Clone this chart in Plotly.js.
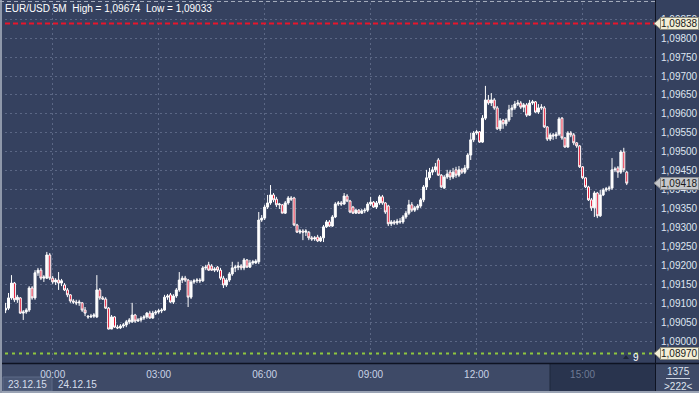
<!DOCTYPE html>
<html><head><meta charset="utf-8">
<script src="https://cdn.plot.ly/plotly-3.0.1.min.js"></script>
<style>html,body{margin:0;padding:0;background:#35415f;}#chart{width:699px;height:393px;}</style>
</head><body><div id="chart"></div>
<script>
// 5-minute bars, EUR/USD, 23.12.15 22:40 -> 24.12.15 16:15
const startTime = "2015-12-23T22:40:00";
const barMinutes = 5;
const openP = [
1.09084,1.09089,1.09116,1.09155,1.09111,1.09116,1.09076,1.09079,1.09084,1.09142,
1.09116,1.09182,1.09189,1.09168,1.09168,1.09229,1.09168,1.09158,1.09163,1.09155,
1.09150,1.09137,1.09124,1.09108,1.09105,1.09103,1.09103,1.09084,1.09068,1.09066,
1.09068,1.09066,1.09137,1.09116,1.09113,1.09089,1.09034,1.09066,1.09039,1.09037,
1.09042,1.09045,1.09053,1.09053,1.09071,1.09055,1.09058,1.09063,1.09066,1.09076,
1.09063,1.09076,1.09079,1.09082,1.09084,1.09118,1.09124,1.09105,1.09121,1.09137,
1.09163,1.09168,1.09163,1.09118,1.09158,1.09161,1.09163,1.09161,1.09195,1.09203,
1.09200,1.09189,1.09197,1.09189,1.09168,1.09150,1.09163,1.09179,1.09195,1.09197,
1.09200,1.09195,1.09216,1.09197,1.09208,1.09208,1.09211,1.09321,1.09326,1.09355,
1.09366,1.09387,1.09376,1.09361,1.09361,1.09339,1.09366,1.09379,1.09379,1.09308,
1.09289,1.09292,1.09289,1.09289,1.09274,1.09271,1.09276,1.09266,1.09274,1.09303,
1.09316,1.09305,1.09329,1.09363,1.09366,1.09363,1.09384,1.09371,1.09355,1.09339,
1.09347,1.09339,1.09345,1.09347,1.09363,1.09368,1.09355,1.09366,1.09382,1.09366,
1.09358,1.09311,1.09316,1.09313,1.09318,1.09316,1.09329,1.09339,1.09361,1.09347,
1.09353,1.09358,1.09374,1.09408,1.09432,1.09447,1.09453,1.09479,1.09439,1.09405,
1.09434,1.09447,1.09434,1.09453,1.09439,1.09453,1.09447,1.09458,1.09492,1.09532,
1.09550,1.09553,1.09526,1.09589,1.09637,1.09629,1.09637,1.09616,1.09561,1.09584,
1.09574,1.09584,1.09611,1.09616,1.09626,1.09629,1.09618,1.09624,1.09597,1.09629,
1.09632,1.09605,1.09616,1.09616,1.09566,1.09534,1.09545,1.09542,1.09547,1.09589,
1.09537,1.09513,1.09550,1.09545,1.09524,1.09516,1.09461,1.09432,1.09408,1.09374,
1.09353,1.09392,1.09332,1.09387,1.09400,1.09403,1.09405,1.09453,1.09458,1.09447,
1.09500,1.09447];
const highP = [
1.09103,1.09129,1.09176,1.09158,1.09124,1.09118,1.09084,1.09089,1.09147,1.09147,
1.09189,1.09195,1.09195,1.09176,1.09237,1.09234,1.09174,1.09168,1.09184,1.09166,
1.09155,1.09142,1.09126,1.09113,1.09111,1.09111,1.09105,1.09092,1.09071,1.09074,
1.09076,1.09176,1.09142,1.09121,1.09118,1.09092,1.09071,1.09068,1.09045,1.09047,
1.09050,1.09058,1.09063,1.09103,1.09074,1.09063,1.09068,1.09071,1.09079,1.09082,
1.09082,1.09084,1.09087,1.09089,1.09124,1.09126,1.09129,1.09126,1.09142,1.09184,
1.09174,1.09174,1.09166,1.09163,1.09166,1.09168,1.09168,1.09200,1.09203,1.09211,
1.09205,1.09197,1.09200,1.09195,1.09174,1.09168,1.09184,1.09211,1.09203,1.09211,
1.09205,1.09221,1.09218,1.09216,1.09216,1.09218,1.09342,1.09334,1.09361,1.09387,
1.09413,1.09392,1.09382,1.09366,1.09363,1.09371,1.09384,1.09384,1.09382,1.09311,
1.09297,1.09297,1.09297,1.09292,1.09279,1.09279,1.09282,1.09279,1.09308,1.09321,
1.09321,1.09334,1.09368,1.09371,1.09371,1.09392,1.09389,1.09374,1.09358,1.09350,
1.09350,1.09350,1.09353,1.09368,1.09382,1.09371,1.09371,1.09387,1.09387,1.09368,
1.09361,1.09321,1.09321,1.09324,1.09326,1.09334,1.09345,1.09374,1.09368,1.09358,
1.09363,1.09379,1.09413,1.09453,1.09458,1.09461,1.09471,1.09484,1.09442,1.09439,
1.09453,1.09453,1.09458,1.09461,1.09463,1.09458,1.09466,1.09497,1.09550,1.09555,
1.09558,1.09555,1.09597,1.09674,1.09650,1.09655,1.09642,1.09621,1.09589,1.09587,
1.09589,1.09624,1.09624,1.09634,1.09637,1.09634,1.09629,1.09629,1.09637,1.09637,
1.09634,1.09626,1.09626,1.09621,1.09568,1.09550,1.09550,1.09553,1.09592,1.09592,
1.09539,1.09555,1.09555,1.09550,1.09526,1.09518,1.09463,1.09434,1.09411,1.09379,
1.09397,1.09395,1.09400,1.09405,1.09408,1.09411,1.09484,1.09461,1.09463,1.09505,
1.09511,1.09450];
const lowP = [
1.09076,1.09084,1.09111,1.09105,1.09103,1.09074,1.09058,1.09074,1.09079,1.09111,
1.09111,1.09174,1.09163,1.09158,1.09166,1.09163,1.09153,1.09150,1.09137,1.09147,
1.09134,1.09118,1.09103,1.09100,1.09097,1.09095,1.09079,1.09068,1.09061,1.09063,
1.09063,1.09063,1.09111,1.09111,1.09087,1.09033,1.09034,1.09037,1.09034,1.09034,
1.09037,1.09039,1.09047,1.09050,1.09050,1.09053,1.09053,1.09058,1.09061,1.09061,
1.09061,1.09071,1.09074,1.09076,1.09082,1.09111,1.09103,1.09100,1.09116,1.09132,
1.09155,1.09158,1.09092,1.09113,1.09153,1.09155,1.09155,1.09158,1.09189,1.09187,
1.09187,1.09184,1.09184,1.09163,1.09142,1.09145,1.09158,1.09174,1.09184,1.09189,
1.09189,1.09189,1.09195,1.09195,1.09203,1.09205,1.09205,1.09316,1.09321,1.09350,
1.09361,1.09368,1.09355,1.09350,1.09339,1.09337,1.09361,1.09371,1.09305,1.09287,
1.09284,1.09268,1.09279,1.09268,1.09266,1.09266,1.09263,1.09263,1.09263,1.09300,
1.09303,1.09303,1.09326,1.09358,1.09358,1.09361,1.09368,1.09339,1.09337,1.09337,
1.09337,1.09337,1.09339,1.09342,1.09358,1.09353,1.09350,1.09361,1.09361,1.09337,
1.09305,1.09305,1.09308,1.09308,1.09311,1.09311,1.09324,1.09334,1.09342,1.09342,
1.09347,1.09353,1.09368,1.09400,1.09426,1.09439,1.09447,1.09437,1.09405,1.09403,
1.09429,1.09426,1.09429,1.09432,1.09434,1.09442,1.09442,1.09453,1.09479,1.09526,
1.09545,1.09524,1.09524,1.09584,1.09624,1.09621,1.09611,1.09558,1.09555,1.09561,
1.09568,1.09579,1.09592,1.09611,1.09621,1.09613,1.09605,1.09592,1.09595,1.09624,
1.09603,1.09600,1.09611,1.09563,1.09529,1.09529,1.09532,1.09534,1.09542,1.09532,
1.09511,1.09511,1.09539,1.09518,1.09511,1.09458,1.09429,1.09405,1.09371,1.09345,
1.09329,1.09326,1.09329,1.09384,1.09395,1.09397,1.09400,1.09447,1.09432,1.09442,
1.09447,1.09413];
const closeP = [
1.09089,1.09116,1.09155,1.09111,1.09118,1.09076,1.09079,1.09084,1.09142,1.09116,
1.09182,1.09189,1.09168,1.09171,1.09229,1.09168,1.09158,1.09163,1.09155,1.09161,
1.09137,1.09124,1.09108,1.09105,1.09103,1.09105,1.09084,1.09076,1.09066,1.09068,
1.09071,1.09137,1.09116,1.09113,1.09089,1.09034,1.09066,1.09039,1.09037,1.09042,
1.09045,1.09053,1.09058,1.09071,1.09055,1.09058,1.09063,1.09066,1.09076,1.09063,
1.09076,1.09079,1.09082,1.09084,1.09118,1.09121,1.09105,1.09121,1.09137,1.09163,
1.09168,1.09163,1.09118,1.09158,1.09161,1.09163,1.09161,1.09195,1.09197,1.09189,
1.09189,1.09192,1.09189,1.09168,1.09150,1.09163,1.09179,1.09195,1.09197,1.09200,
1.09195,1.09216,1.09197,1.09208,1.09211,1.09213,1.09321,1.09326,1.09355,1.09366,
1.09387,1.09374,1.09361,1.09363,1.09339,1.09366,1.09379,1.09376,1.09308,1.09289,
1.09292,1.09289,1.09292,1.09274,1.09271,1.09274,1.09266,1.09274,1.09303,1.09316,
1.09305,1.09329,1.09363,1.09366,1.09363,1.09384,1.09371,1.09342,1.09339,1.09347,
1.09339,1.09345,1.09347,1.09363,1.09368,1.09355,1.09366,1.09382,1.09366,1.09342,
1.09311,1.09316,1.09313,1.09318,1.09316,1.09329,1.09339,1.09361,1.09347,1.09353,
1.09358,1.09374,1.09408,1.09432,1.09447,1.09453,1.09461,1.09439,1.09408,1.09434,
1.09442,1.09434,1.09447,1.09439,1.09453,1.09447,1.09458,1.09492,1.09532,1.09550,
1.09553,1.09526,1.09589,1.09637,1.09629,1.09637,1.09616,1.09561,1.09582,1.09574,
1.09584,1.09611,1.09616,1.09626,1.09629,1.09618,1.09624,1.09597,1.09629,1.09632,
1.09605,1.09616,1.09618,1.09566,1.09534,1.09545,1.09542,1.09547,1.09587,1.09537,
1.09513,1.09550,1.09545,1.09524,1.09516,1.09461,1.09432,1.09408,1.09374,1.09353,
1.09392,1.09332,1.09387,1.09400,1.09403,1.09405,1.09453,1.09455,1.09447,1.09500,
1.09453,1.09418];

const yTicks = [1.0900,1.0905,1.0910,1.0915,1.0920,1.0925,1.0930,1.0935,1.0940,1.0945,1.0950,1.0955,1.0960,1.0965,1.0970,1.0975,1.0980,1.0985];
const xTickVals = ["2015-12-24 00:00","2015-12-24 03:00","2015-12-24 06:00","2015-12-24 09:00","2015-12-24 12:00","2015-12-24 15:00"];
const xTickText = ["00:00","03:00","06:00","09:00","12:00","<span style=\"color:#6e7a95\">15:00</span>"];
const dateLabels = ["23.12.15","24.12.15"];
const titleText = "EUR/USD 5M  High = 1,09674  Low = 1,09033";
const highLine = 1.09838;
const lowLine = 1.08970;
const lastPrice = 1.09418;
const barCountText = "1375";
const visibleText = ">222<";

// time axis for the bars
function pad(n){return (n<10?"0":"")+n;}
const times = [];
{
  const t0 = new Date(startTime+"Z").getTime();
  for (let i=0;i<closeP.length;i++){
    const d = new Date(t0 + i*barMinutes*60000);
    times.push(d.getUTCFullYear()+"-"+pad(d.getUTCMonth()+1)+"-"+pad(d.getUTCDate())+" "+pad(d.getUTCHours())+":"+pad(d.getUTCMinutes()));
  }
}
function fmt(v){return v.toFixed(5).replace(".",",");}

const FONT = "Liberation Sans, Arial, sans-serif";
// pixel helpers for paper coords (plot: x 5..655, y 3..363)
const px = x => (x-5)/650;
const py = y => (363-y)/360;
const halfH = 6/38000;

const trace = {
  type:"candlestick", x:times, open:openP, high:highP, low:lowP, close:closeP,
  increasing:{line:{color:"#ffffff",width:1}, fillcolor:"#ffffff"},
  decreasing:{line:{color:"#ffffff",width:1}, fillcolor:"#e3122f"},
  whiskerwidth:0, hoverinfo:"skip", showlegend:false
};

function tag(y, bg, border){
  return {type:"path", xref:"paper", yref:"y",
    path:`M ${px(654)} ${y} L ${px(661)} ${y+halfH} L ${px(661)} ${y-halfH} Z`,
    fillcolor:bg, line:{color:border,width:1}};
}

const shapes = [
  {type:"rect", xref:"paper", yref:"paper", x0:px(-1), x1:px(655), y0:py(391), y1:py(364), fillcolor:"#3e4a67", line:{width:0}, layer:"below"},
  {type:"rect", xref:"paper", yref:"paper", x0:px(550), x1:px(655), y0:py(391), y1:py(364), fillcolor:"#29344e", line:{width:0}, layer:"below"},
  {type:"line", xref:"paper", yref:"paper", x0:px(550), x1:px(550), y0:py(391), y1:py(364), line:{color:"#1f283d",width:1}},
  {type:"rect", xref:"paper", yref:"paper", x0:px(656), x1:px(700), y0:py(391), y1:py(364), fillcolor:"#3e4a67", line:{width:0}, layer:"below"},
  {type:"rect", xref:"paper", yref:"paper", x0:px(3), x1:px(52), y0:py(391), y1:py(377), fillcolor:"#4a5774", line:{color:"#5d6a87",width:1}, layer:"below"},
  {type:"line", xref:"paper", yref:"paper", x0:px(-1), x1:px(700), y0:py(363.5), y1:py(363.5), line:{color:"#0e1322",width:1.5}},
  {type:"line", xref:"paper", yref:"paper", x0:px(655.5), x1:px(655.5), y0:py(0), y1:py(393), line:{color:"#0e1322",width:1}},
  {type:"line", xref:"paper", yref:"paper", x0:px(-1), x1:px(700), y0:py(392), y1:py(392), line:{color:"#9aa3b4",width:2}},
  {type:"line", xref:"paper", yref:"paper", x0:px(1), x1:px(1), y0:py(0), y1:py(393), line:{color:"#8f98aa",width:2}},
  {type:"line", xref:"paper", yref:"paper", x0:px(0), x1:px(655), y0:py(1.5), y1:py(1.5), line:{color:"#a3abbb",width:1,dash:"4px,3px"}},
  {type:"line", xref:"paper", yref:"paper", x0:px(666), x1:px(690), y0:py(378.5), y1:py(378.5), line:{color:"#c9d1e0",width:1}},
  {type:"line", xref:"paper", yref:"y", x0:0, x1:1, y0:highLine, y1:highLine, line:{color:"#e8152b",width:2,dash:"5px,3px"}},
  {type:"line", xref:"paper", yref:"y", x0:0, x1:1, y0:lowLine, y1:lowLine, line:{color:"#8ec63f",width:2,dash:"3px,4px"}},
  {type:"path", xref:"paper", yref:"paper", path:`M ${px(623)} ${py(359)} L ${px(629)} ${py(359)} L ${px(626)} ${py(355)} Z`, fillcolor:"#20283a", line:{width:0}},
  tag(highLine,"#f2eed6","#8c8b7c"),
  tag(lowLine,"#f2eed6","#8c8b7c"),
  tag(lastPrice,"#c5c7ca","#8a8c90")
];

function priceBox(y, bg, border){
  return {xref:"paper", yref:"y", x:px(660), y:y, xanchor:"left", yanchor:"middle",
    text:fmt(y), showarrow:false, bgcolor:bg, bordercolor:border, borderwidth:1, borderpad:0,
    font:{family:FONT,size:10,color:"#1a1a1a"}};
}

const annotations = [
  {xref:"paper", yref:"paper", x:px(3), y:py(8.5), xanchor:"left", yanchor:"middle", text:titleText, showarrow:false, font:{family:FONT,size:10,color:"#ffffff"}},
  {xref:"paper", yref:"paper", x:px(27.5), y:py(384), xanchor:"center", yanchor:"middle", text:dateLabels[0], showarrow:false, font:{family:FONT,size:10,color:"#d6deec"}},
  {xref:"paper", yref:"paper", x:px(56), y:py(384), xanchor:"left", yanchor:"middle", text:dateLabels[1], showarrow:false, font:{family:FONT,size:10,color:"#d6deec"}},
  {xref:"paper", yref:"paper", x:px(678), y:py(371), xanchor:"center", yanchor:"middle", text:barCountText, showarrow:false, font:{family:FONT,size:10,color:"#dfe5f0"}},
  {xref:"paper", yref:"paper", x:px(678), y:py(386), xanchor:"center", yanchor:"middle", text:visibleText, showarrow:false, font:{family:FONT,size:10,color:"#dfe5f0"}},
  {xref:"paper", yref:"paper", x:px(636), y:py(357), xanchor:"center", yanchor:"middle", text:"9", showarrow:false, font:{family:FONT,size:10,color:"#ffffff"}},
  priceBox(highLine,"#f2eed6","#8c8b7c"),
  priceBox(lowLine,"#f2eed6","#8c8b7c"),
  priceBox(lastPrice,"#c5c7ca","#8a8c90")
];

const layout = {
  width:699, height:393,
  margin:{l:5, r:44, t:3, b:30, pad:0},
  paper_bgcolor:"#35415f", plot_bgcolor:"#35415f",
  separators:",.",
  showlegend:false,
  boxgap:0.05,
  font:{family:FONT,size:10,color:"#dfe5f0"},
  xaxis:{type:"date", range:["2015-12-23 22:39","2015-12-24 17:03"],
    tickmode:"array", tickvals:xTickVals, ticktext:xTickText,
    showgrid:true, gridcolor:"#5b6785", griddash:"2px,3px", gridwidth:1,
    ticks:"", ticklabelstandoff:4, zeroline:false, showline:false,
    tickfont:{family:FONT,size:10,color:"#c9d3e6"},
    rangeslider:{visible:false}, fixedrange:true},
  yaxis:{side:"right", range:[1.089447,1.098921],
    tickmode:"array", tickvals:yTicks, tickformat:".5f",
    showgrid:true, gridcolor:"#5b6785", griddash:"2px,3px", gridwidth:1,
    ticks:"", ticklabelstandoff:5, zeroline:false, showline:false,
    tickfont:{family:FONT,size:10,color:"#dfe5f0"}, fixedrange:true},
  shapes:shapes, annotations:annotations,
  hovermode:false
};

Plotly.newPlot("chart",[trace],layout,{staticPlot:true,displayModeBar:false});
</script></body></html>
